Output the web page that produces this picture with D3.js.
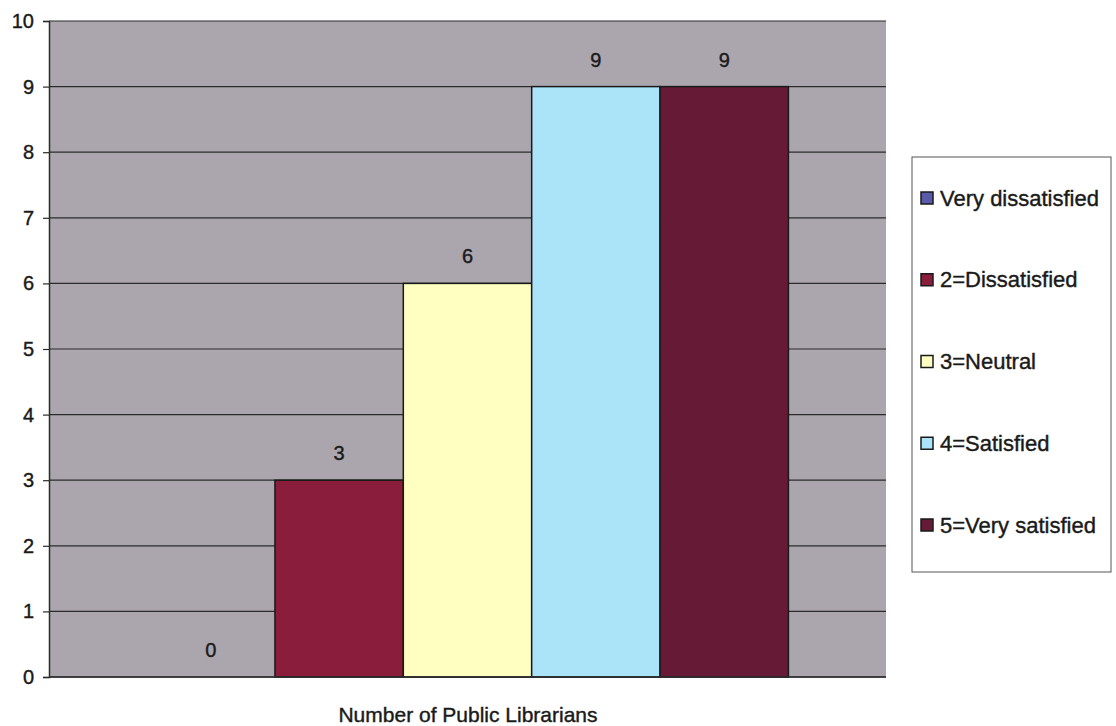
<!DOCTYPE html>
<html>
<head>
<meta charset="utf-8">
<script src="https://cdn.jsdelivr.net/npm/d3@7"></script>
<style>
  body { margin: 0; background: #fff; }
  svg { display: block; }
  text { font-family: "Liberation Sans", Arial, sans-serif; fill: #1a1a1a; stroke: #1a1a1a; stroke-width: 0.4px; }
</style>
</head>
<body>
<svg id="chart" width="1116" height="726"></svg>
<script>
const categories = ["Number of Public Librarians"];
const seriesNames = ["Very dissatisfied", "2=Dissatisfied", "3=Neutral", "4=Satisfied", "5=Very satisfied"];
const seriesValues = [0, 3, 6, 9, 9];
const seriesColors = ["#5a5aaa", "#8a1c3c", "#ffffc2", "#abe3f9", "#671a36"];
const yTicks = [0, 1, 2, 3, 4, 5, 6, 7, 8, 9, 10];

const svg = d3.select("#chart");
const plot = { left: 49, right: 886, top: 21, bottom: 677 };

const y = d3.scaleLinear().domain([0, 10]).range([plot.bottom, plot.top]);
const x0 = d3.scaleBand().domain(categories).range([plot.left, plot.right]).padding(0);
const x1 = d3.scaleBand().domain(seriesNames).range([0, x0.bandwidth()]).paddingInner(0).paddingOuter(0.76);

// plot background
svg.append("rect")
  .attr("x", plot.left).attr("y", plot.top)
  .attr("width", plot.right - plot.left).attr("height", plot.bottom - plot.top)
  .attr("fill", "#aba6ae");

// gridlines
svg.append("g").selectAll("line").data(yTicks).join("line")
  .attr("x1", plot.left).attr("x2", plot.right)
  .attr("y1", d => y(d)).attr("y2", d => y(d))
  .attr("stroke", "#2b2b2b").attr("stroke-width", 1.2);

// y axis
const yAxis = d3.axisLeft(y).tickValues(yTicks).tickSize(6).tickPadding(9).tickFormat(d3.format("d"));
const gy = svg.append("g").attr("transform", `translate(${plot.left},0)`).call(yAxis);
gy.select(".domain").attr("stroke", "#2b2b2b").attr("stroke-width", 1.5);
gy.selectAll(".tick line").attr("stroke", "#2b2b2b").attr("stroke-width", 1.2);
gy.selectAll(".tick text").attr("font-size", 20).attr("fill", "#1a1a1a")
  .attr("font-family", "Liberation Sans, Arial, sans-serif");

// bars
const data = seriesNames.map((s, i) => ({ series: s, value: seriesValues[i], color: seriesColors[i], cat: categories[0] }));
const g = svg.append("g");
g.selectAll("rect").data(data).join("rect")
  .attr("x", d => x0(d.cat) + x1(d.series))
  .attr("y", d => y(d.value))
  .attr("width", x1.bandwidth())
  .attr("height", d => y(0) - y(d.value))
  .attr("fill", d => d.color)
  .attr("stroke", "#1a1a1a").attr("stroke-width", 1.5);

// value labels
g.selectAll("text.val").data(data).join("text").attr("class", "val")
  .attr("x", d => x0(d.cat) + x1(d.series) + x1.bandwidth() / 2)
  .attr("y", d => y(d.value) - 20)
  .attr("text-anchor", "middle")
  .attr("font-size", 20)
  .text(d => d.value);

// bottom axis line
svg.append("line").attr("x1", plot.left).attr("x2", plot.right)
  .attr("y1", plot.bottom).attr("y2", plot.bottom)
  .attr("stroke", "#2b2b2b").attr("stroke-width", 1.5);

// x category label
svg.append("text")
  .attr("x", 468)
  .attr("y", 722)
  .attr("text-anchor", "middle")
  .attr("font-size", 21)
  .text(categories[0]);

// legend
const lg = svg.append("g");
lg.append("rect").attr("x", 912).attr("y", 157).attr("width", 199).attr("height", 415)
  .attr("fill", "#fff").attr("stroke", "#555").attr("stroke-width", 1);
const ly = d3.scalePoint().domain(seriesNames).range([198, 525]);
const items = lg.selectAll("g.item").data(data).join("g").attr("class", "item")
  .attr("transform", d => `translate(921,${ly(d.series)})`);
items.append("rect").attr("x", 0).attr("y", -6).attr("width", 12).attr("height", 12)
  .attr("fill", d => d.color).attr("stroke", "#1a1a1a").attr("stroke-width", 1.5);
items.append("text").attr("x", 19).attr("y", 0).attr("dy", "0.35em")
  .attr("font-size", 22)
  .text(d => d.series);
</script>
</body>
</html>
